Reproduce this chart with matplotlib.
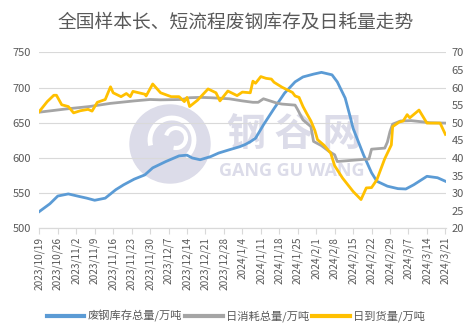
import matplotlib
matplotlib.use("Agg")
import matplotlib.pyplot as plt
from matplotlib.patches import Ellipse, Arc
import pandas as pd

plt.rcParams['font.family'] = ['Noto Sans CJK SC', 'DejaVu Sans']

start = pd.Timestamp("2023-10-19")
end = pd.Timestamp("2024-03-21")

# 废钢库存总量 (左轴), 以起始日后的天数记
stock_day = [0, 4, 7, 11, 15, 18, 21, 25, 29, 32, 36, 40, 43, 48, 53, 56, 58, 61, 65, 68,
             72, 76, 78, 80, 82, 85, 89, 93, 97, 100, 104, 107, 111, 113, 116, 118, 119, 123,
             126, 128, 132, 136, 139, 142, 147, 151, 154]
stock_val = [524, 535, 546, 549, 545.5, 543, 540, 543, 555, 562, 570, 576, 586, 595, 603, 604,
             600, 597.5, 602, 607, 611.6, 616, 619, 623, 628, 647, 670, 692, 708, 715, 719,
             721.5, 718, 708, 685, 657, 642, 604, 579, 567, 560, 556.5, 556, 562, 574, 572, 567]

# 日消耗总量 (右轴)
use_day = [0, 10, 19, 27, 36, 42, 46, 54, 57, 61, 65, 72, 77, 81, 83, 85, 90, 92, 97, 98,
           100, 103, 104, 107, 110, 112, 113, 123, 125, 126, 131, 132, 133, 134, 137, 141,
           146, 148, 154]
use_val = [53.0, 53.9, 54.6, 55.5, 56.2, 56.6, 56.5, 56.6, 57.1, 57.2, 57.1, 56.8, 56.2, 55.8,
           55.8, 56.8, 55.6, 55.3, 55.0, 53.7, 50.8, 48.9, 44.7, 43.5, 41.8, 40.9, 39.0, 39.6,
           39.7, 42.5, 42.8, 44.5, 47.5, 49.6, 50.5, 50.6, 50.2, 50.0, 49.9]

# 日到货量 (右轴)
arr_day = [0, 3, 5.5, 6.5, 8.5, 11, 13, 15.5, 18.5, 20, 22, 25, 27, 28, 31, 33, 34.5, 35.5,
           40, 40.5, 43, 46, 50, 53, 55, 56, 57, 60, 64, 67, 68.5, 71.5, 75, 77, 80, 81, 82,
           84, 86, 88, 89, 92, 96, 97, 98.5, 100, 101.5, 103, 104.5, 105.5, 108, 110.5, 112,
           115, 119, 122, 124, 126, 128, 131, 133.5, 134, 136.5, 138, 139.5, 140.5, 144, 147,
           152, 154]
arr_val = [53.2, 56.0, 57.8, 57.8, 55.1, 54.6, 52.8, 53.4, 53.8, 53.3, 55.8, 56.6, 60.2, 58.5,
           57.4, 58.3, 57.4, 58.9, 58.1, 57.6, 61.0, 58.5, 57.4, 57.4, 56.0, 57.2, 54.6, 56.4,
           59.6, 58.5, 56.2, 59.0, 57.7, 58.7, 58.5, 61.8, 61.2, 63.1, 62.6, 62.4, 61.5, 60.1,
           58.6, 57.6, 57.2, 54.6, 52.5, 50.5, 47.8, 45.2, 43.6, 41.4, 37.8, 34.3, 30.5, 28.2,
           31.5, 31.6, 33.8, 39.8, 43.7, 48.9, 50.2, 50.5, 52.3, 51.4, 53.6, 49.9, 49.9, 46.7]

labels = ["废钢库存总量/万吨", "日消耗总量/万吨", "日到货量/万吨"]
colors = ["#5B9BD5", "#A5A5A5", "#FFC000"]
txt = "#595959"


def to_dates(days):
    return [start + pd.Timedelta(days=d) for d in days]


def fpos(px, py):
    # 像素坐标 -> 画布比例坐标
    return px / 472, 1 - py / 334


fig = plt.figure(figsize=(4.72, 3.34), dpi=100)
ax = fig.add_axes([0.0833, 0.316, 0.862, 0.5275])
ax2 = ax.twinx()

# 水印
wm = "#dcdce9"
tf = fig.transFigure
ax.add_patch(Ellipse(fpos(170, 144), 80 / 472, 78 / 334, transform=tf,
                     color=wm, zorder=0.2, clip_on=False))
ax.add_patch(Arc(fpos(172, 140), 44 / 472, 44 / 334, theta1=-60, theta2=200,
                 transform=tf, color="white", lw=3.5, zorder=0.25, clip_on=False))
ax.add_patch(Arc(fpos(176, 138), 20 / 472, 20 / 334, theta1=-100, theta2=160,
                 transform=tf, color="white", lw=3, zorder=0.25, clip_on=False))
ax.text(*fpos(294, 134), "钢 谷 网", fontsize=28, fontweight="bold", color=wm,
        ha="center", va="center", transform=tf, zorder=0.2)
ax.text(*fpos(292, 171), "GANG GU WANG", fontsize=13, fontweight="bold",
        color=wm, ha="center", va="center", transform=tf, zorder=0.2,
        family=["Open Sans", "DejaVu Sans"])

l1, = ax.plot(to_dates(stock_day), stock_val, color=colors[0], lw=2, zorder=3)
l2, = ax2.plot(to_dates(use_day), use_val, color=colors[1], lw=2, zorder=3)
l3, = ax2.plot(to_dates(arr_day), arr_val, color=colors[2], lw=2, zorder=4)

ax.set_ylim(500, 750)
ax.set_yticks(range(500, 751, 50))
ax2.set_ylim(20, 70)
ax2.set_yticks(range(20, 71, 5))
ax.set_xlim(start, end + pd.Timedelta(days=0.3))

ticks = pd.date_range(start, end, freq="7D")
ax.set_xticks(ticks)
ax.set_xticklabels([f"{t.year}/{t.month}/{t.day}" for t in ticks], rotation=90)

ax.grid(axis="y", color="#d9d9d9", lw=0.8)
ax.set_axisbelow(True)
for a in (ax, ax2):
    for s in ("top", "left", "right"):
        a.spines[s].set_visible(False)
    a.spines["bottom"].set_color("#d9d9d9")
ax.tick_params(axis="y", length=0, pad=6, labelsize=8, labelcolor=txt)
ax2.tick_params(axis="y", length=0, pad=4, labelsize=8, labelcolor=txt)
ax.tick_params(axis="x", length=4, color="#d9d9d9", pad=2, labelsize=7.3, labelcolor=txt)

fig.suptitle("全国样本长、短流程废钢库存及日耗量走势", x=0.5, y=0.965, fontsize=13.5, color=txt)

leg = fig.legend([l1, l2, l3], labels, loc="center", bbox_to_anchor=(0.5, 0.054), ncol=3,
                 frameon=False, fontsize=8.1, handlelength=3.3, handletextpad=0.3,
                 columnspacing=0.3, labelcolor=txt)
for h in leg.get_lines():
    h.set_linewidth(3)

fig.savefig("out.png", dpi=100)
